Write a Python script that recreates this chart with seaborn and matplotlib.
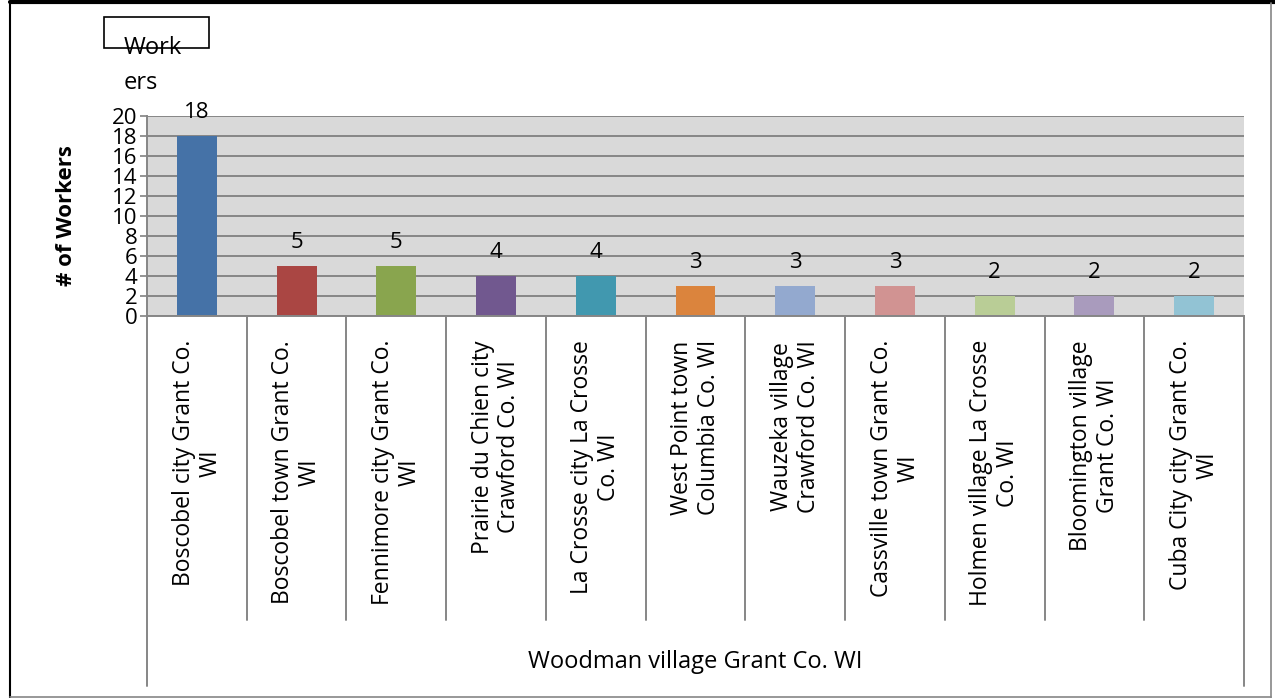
import numpy as np
import pandas as pd
import seaborn as sns
import matplotlib.pyplot as plt
from matplotlib.lines import Line2D
from matplotlib.patches import Rectangle
from matplotlib.transforms import blended_transform_factory

sns.set_theme(style='white')
plt.rcParams['font.family'] = ['Open Sans', 'DejaVu Sans']
plt.rcParams['text.color'] = 'black'
plt.rcParams['axes.labelcolor'] = 'black'
plt.rcParams['ytick.color'] = 'black'

places = [
    'Boscobel city Grant Co.\nWI',
    'Boscobel town Grant Co.\nWI',
    'Fennimore city Grant Co.\nWI',
    'Prairie du Chien city\nCrawford Co. WI',
    'La Crosse city La Crosse\nCo. WI',
    'West Point town\nColumbia Co. WI',
    'Wauzeka village\nCrawford Co. WI',
    'Cassville town Grant Co.\nWI',
    'Holmen village La Crosse\nCo. WI',
    'Bloomington village\nGrant Co. WI',
    'Cuba City city Grant Co.\nWI',
]
workers = [18, 5, 5, 4, 4, 3, 3, 3, 2, 2, 2]
group_label = 'Woodman village Grant Co. WI'
bar_colors = ['#4572A7', '#AA4643', '#89A54E', '#71588F', '#4198AF', '#DB843D',
              '#93A9CF', '#D19392', '#B9CD96', '#A99BBD', '#92C3D4']

df = pd.DataFrame({'Place': places, 'Workers': workers})

fig = plt.figure(figsize=(12.75, 6.98), dpi=100)
W, H = 1275, 698
ax = fig.add_axes([147 / W, 1 - 316 / H, (1244 - 147) / W, (316 - 116) / H])

sns.barplot(data=df, x='Place', y='Workers', hue='Place', palette=bar_colors,
            width=0.4, legend=False, saturation=1, linewidth=0, ax=ax)

ax.set_facecolor('#D9D9D9')
ax.set_ylim(0, 20)
ax.set_yticks(range(0, 21, 2))
ax.set_xlim(-0.5, len(places) - 0.5)
ax.grid(axis='y', color='#868686', linewidth=1.4)
ax.set_axisbelow(True)
ax.tick_params(axis='y', left=True, length=5, color='#868686', labelsize=16, pad=2)
ax.set_ylabel('# of Workers', fontsize=16, fontweight='bold', labelpad=25)
ax.set_xlabel('')
for s in ['top', 'right']:
    ax.spines[s].set_visible(False)
for s in ['left', 'bottom']:
    ax.spines[s].set_color('#868686')
    ax.spines[s].set_linewidth(1.4)

# category labels, rotated and wrapped
ax.set_xticks(range(len(places)))
ax.set_xticklabels([])
ax.tick_params(axis='x', bottom=False)
trans = blended_transform_factory(ax.transData, ax.transAxes)
for i, p in enumerate(places):
    ax.text(i, -0.12, p, transform=trans, rotation=90, ha='center', va='top',
            multialignment='center', fontsize=16.5, linespacing=1.15)

# separator lines in the label area
bounds = np.arange(len(places) + 1) - 0.5
for b in bounds:
    bottom = -1.85 if b in (bounds[0], bounds[-1]) else -1.52
    ax.add_line(Line2D([b, b], [0, bottom], transform=trans, color='#868686',
                       linewidth=1.4, clip_on=False))

ax.text(np.mean(bounds), -1.73, group_label, transform=trans, ha='center',
        va='center', fontsize=17)

for c in ax.containers:
    ax.bar_label(c, fontsize=16, padding=9)

# legend leftover box
fig.add_artist(Rectangle((104 / W, 1 - 48 / H), 105 / W, 31 / H, transform=fig.transFigure,
                         fill=False, edgecolor='black', linewidth=1.2))
fig.text(124 / W, 1 - 48 / H, 'Work', fontsize=17, ha='left', va='center')
fig.text(124 / W, 1 - 83 / H, 'ers', fontsize=17, ha='left', va='center')

# outer frame
fig.add_artist(Line2D([10 / W, 1], [1 - 2 / H, 1 - 2 / H], transform=fig.transFigure, color='black', linewidth=3))
fig.add_artist(Line2D([10 / W, 10 / W], [0, 1 - 2 / H], transform=fig.transFigure, color='black', linewidth=1.5))
fig.add_artist(Line2D([1271 / W, 1271 / W], [0, 1 - 3 / H], transform=fig.transFigure, color='#868686', linewidth=1.2))
fig.add_artist(Line2D([10 / W, 1271 / W], [1 / H, 1 / H], transform=fig.transFigure, color='#868686', linewidth=1.2))

fig.savefig('out.png', dpi=100)
